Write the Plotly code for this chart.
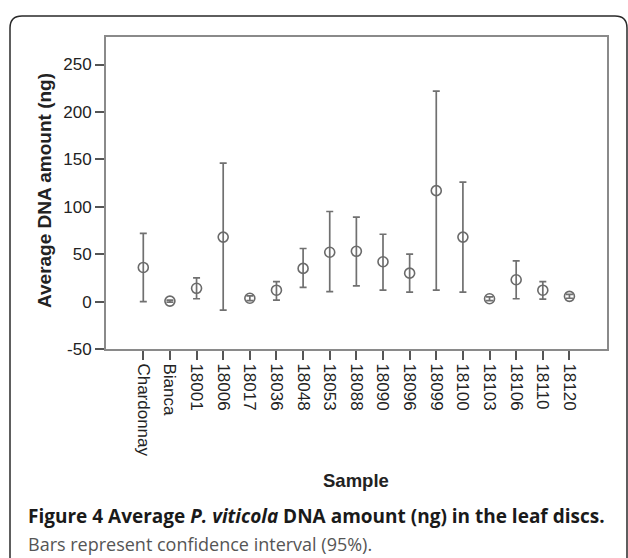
import plotly.graph_objects as go

samples = ["Chardonnay", "Bianca", "18001", "18006", "18017", "18036", "18048", "18053",
           "18088", "18090", "18096", "18099", "18100", "18103", "18106", "18110", "18120"]
means = [36, 0.5, 14, 68, 3.5, 12, 35, 52, 53, 42, 30, 117, 68, 3, 23, 12, 5.5]
upper = [72, 1.5, 25, 146, 6, 21, 56, 95, 89, 71, 50, 222, 126, 5, 43, 21, 7.5]
lower = [0, -0.5, 3, -9, 1, 1.5, 15, 10.5, 16.5, 12, 10, 12, 10, 1, 3, 2.5, 3.5]
y_ticks = [-50, 0, 50, 100, 150, 200, 250]
y_tick_labels = ["-50", "0", "50", "100", "150", "200", "250"]

err_plus = [u - m for u, m in zip(upper, means)]
err_minus = [m - l for m, l in zip(means, lower)]

grey = "#6a6a6a"
fig = go.Figure()
fig.add_trace(go.Scatter(
    x=samples, y=means, mode="markers",
    marker=dict(symbol="circle-open", size=10, color=grey, line=dict(width=1.6, color=grey)),
    error_y=dict(type="data", symmetric=False, array=err_plus, arrayminus=err_minus,
                 color="#707070", thickness=1.7, width=3.5),
    showlegend=False,
))

ARIAL = "Liberation Sans, Arial, sans-serif"
L, R, T, B = 106, 607, 37, 349
fig.update_layout(
    width=628, height=558,
    margin=dict(l=L, r=628 - R, t=T, b=558 - B),
    paper_bgcolor="white", plot_bgcolor="white",
    xaxis=dict(type="category", range=[-1.4, 17.41], tickangle=90,
               showline=True, linecolor="#8a8a8a", linewidth=2, mirror=True,
               ticks="outside", ticklen=9, tickcolor="#555", tickwidth=1.5,
               showgrid=False, tickfont=dict(family=ARIAL, size=17, color="#222"), zeroline=False),
    yaxis=dict(range=[-50, 279], tickvals=y_ticks, ticktext=y_tick_labels,
               showline=True, linecolor="#8a8a8a", linewidth=2, mirror=True,
               ticks="outside", ticklen=9, tickcolor="#555", tickwidth=1.5,
               showgrid=False, tickfont=dict(family=ARIAL, size=17, color="#222"), zeroline=False),
    font=dict(family=ARIAL, size=14, color="#222"),
)

def px(x): return (x - L) / (R - L)
def py(y): return (B - y) / (B - T)

annotations = [
    dict(text="<b>Average DNA amount (ng)</b>", x=px(44), y=py(191), xref="paper", yref="paper",
         textangle=-90, showarrow=False, font=dict(family=ARIAL, size=19, color="#222"),
         xanchor="center", yanchor="middle"),
    dict(text="<b>Sample</b>", x=px(356), y=py(480), xref="paper", yref="paper",
         showarrow=False, font=dict(family=ARIAL, size=18.5, color="#222"),
         xanchor="center", yanchor="middle"),
    dict(text="<b>Figure 4</b> <b>Average <i>P. viticola</i> DNA amount (ng) in the leaf discs.</b>",
         x=px(26), y=py(516), xref="paper", yref="paper", showarrow=False,
         font=dict(family="Open Sans", size=19, color="#1a1a1a"), xanchor="left", yanchor="middle"),
    dict(text="Bars represent confidence interval (95%).",
         x=px(26), y=py(544), xref="paper", yref="paper", showarrow=False,
         font=dict(family="Open Sans", size=18, color="#555"), xanchor="left", yanchor="middle"),
]
fig.update_layout(annotations=annotations)

# rounded outer frame
x0, y0, x1, y1, r = 10, 16, 627, 600, 12
path = (f"M {px(x0)},{py(y1)} L {px(x0)},{py(y0 + r)} "
        f"Q {px(x0)},{py(y0)} {px(x0 + r)},{py(y0)} "
        f"L {px(x1 - r)},{py(y0)} Q {px(x1)},{py(y0)} {px(x1)},{py(y0 + r)} "
        f"L {px(x1)},{py(y1)}")
fig.add_shape(type="path", path=path, xref="paper", yref="paper",
              line=dict(color="#2a2a2a", width=1.5))

fig.write_html("out.html")
